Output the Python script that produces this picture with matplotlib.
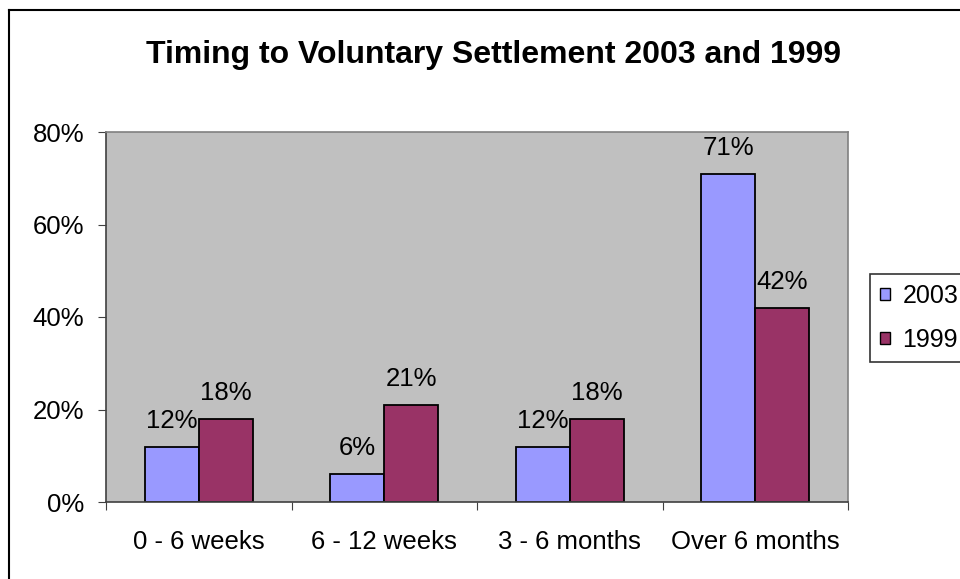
import numpy as np
import matplotlib.pyplot as plt
from matplotlib.patches import Patch
from matplotlib.lines import Line2D
from matplotlib.ticker import FuncFormatter

# data
categories = ["0 - 6 weeks", "6 - 12 weeks", "3 - 6 months", "Over 6 months"]
values_2003 = [12, 6, 12, 71]
values_1999 = [18, 21, 18, 42]
series_names = ["2003", "1999"]
colors = ["#9999FF", "#993366"]

plt.rcParams['font.family'] = ['Liberation Sans', 'DejaVu Sans']

fig = plt.figure(figsize=(9.6, 5.79), dpi=100)
ax = fig.add_axes([106/960, 1 - 502/579, 742/960, 370/579])
ax.set_facecolor("#C0C0C0")

x = np.arange(len(categories))
w = 0.29
bars_a = ax.bar(x - w/2, values_2003, w, color=colors[0], edgecolor="black", linewidth=1.3)
bars_b = ax.bar(x + w/2, values_1999, w, color=colors[1], edgecolor="black", linewidth=1.3)

# data labels above each bar
for bars, vals in ((bars_a, values_2003), (bars_b, values_1999)):
    for b, v in zip(bars, vals):
        ax.annotate(f"{v}%", (b.get_x() + b.get_width()/2, v),
                    xytext=(0, 10), textcoords="offset points",
                    ha="center", va="bottom", fontsize=18.5)

ax.set_xlim(-0.5, len(categories) - 0.5)
ax.set_ylim(0, 80)
ax.set_yticks([0, 20, 40, 60, 80])
ax.yaxis.set_major_formatter(FuncFormatter(lambda v, p: f"{v:.0f}%"))

# category ticks sit between the groups, labels in the middle
ax.set_xticks(np.arange(-0.5, len(categories)), labels=[""] * (len(categories) + 1))
ax.set_xticks(x, labels=categories, minor=True)
ax.tick_params(axis="x", which="minor", length=0, pad=20, labelsize=18.5)
ax.tick_params(axis="x", which="major", length=6, direction="out", color="#404040")
ax.tick_params(axis="y", length=6, direction="out", pad=9.5, labelsize=18.5, color="#404040")

ax.spines["top"].set_color("#808080")
ax.spines["right"].set_color("#808080")
ax.spines["left"].set_color("#404040")
ax.spines["bottom"].set_color("#404040")
for s in ax.spines.values():
    s.set_linewidth(1.2)

fig.text(493/960, 1 - 55/579, "Timing to Voluntary Settlement 2003 and 1999",
         ha="center", va="center", fontsize=23, fontweight="bold")

handles = [Patch(facecolor=c, edgecolor="black", linewidth=1) for c in colors]
leg = fig.legend(handles, series_names, loc="upper left",
                 bbox_to_anchor=(870/960, 1 - 274/579), borderaxespad=0,
                 fontsize=18, frameon=True, fancybox=False,
                 handlelength=0.4, handleheight=0.4, handletextpad=0.5,
                 labelspacing=0.8, borderpad=0.4)
leg.get_frame().set_edgecolor("black")
leg.get_frame().set_linewidth(1.2)

# outer chart frame, runs off the right and bottom of the picture
fig.add_artist(Line2D([9/960, 9/960], [0, 1 - 10/579], color="black", linewidth=1.5))
fig.add_artist(Line2D([9/960, 1], [1 - 10/579, 1 - 10/579], color="black", linewidth=1.5))

fig.savefig("out.png", dpi=100)
